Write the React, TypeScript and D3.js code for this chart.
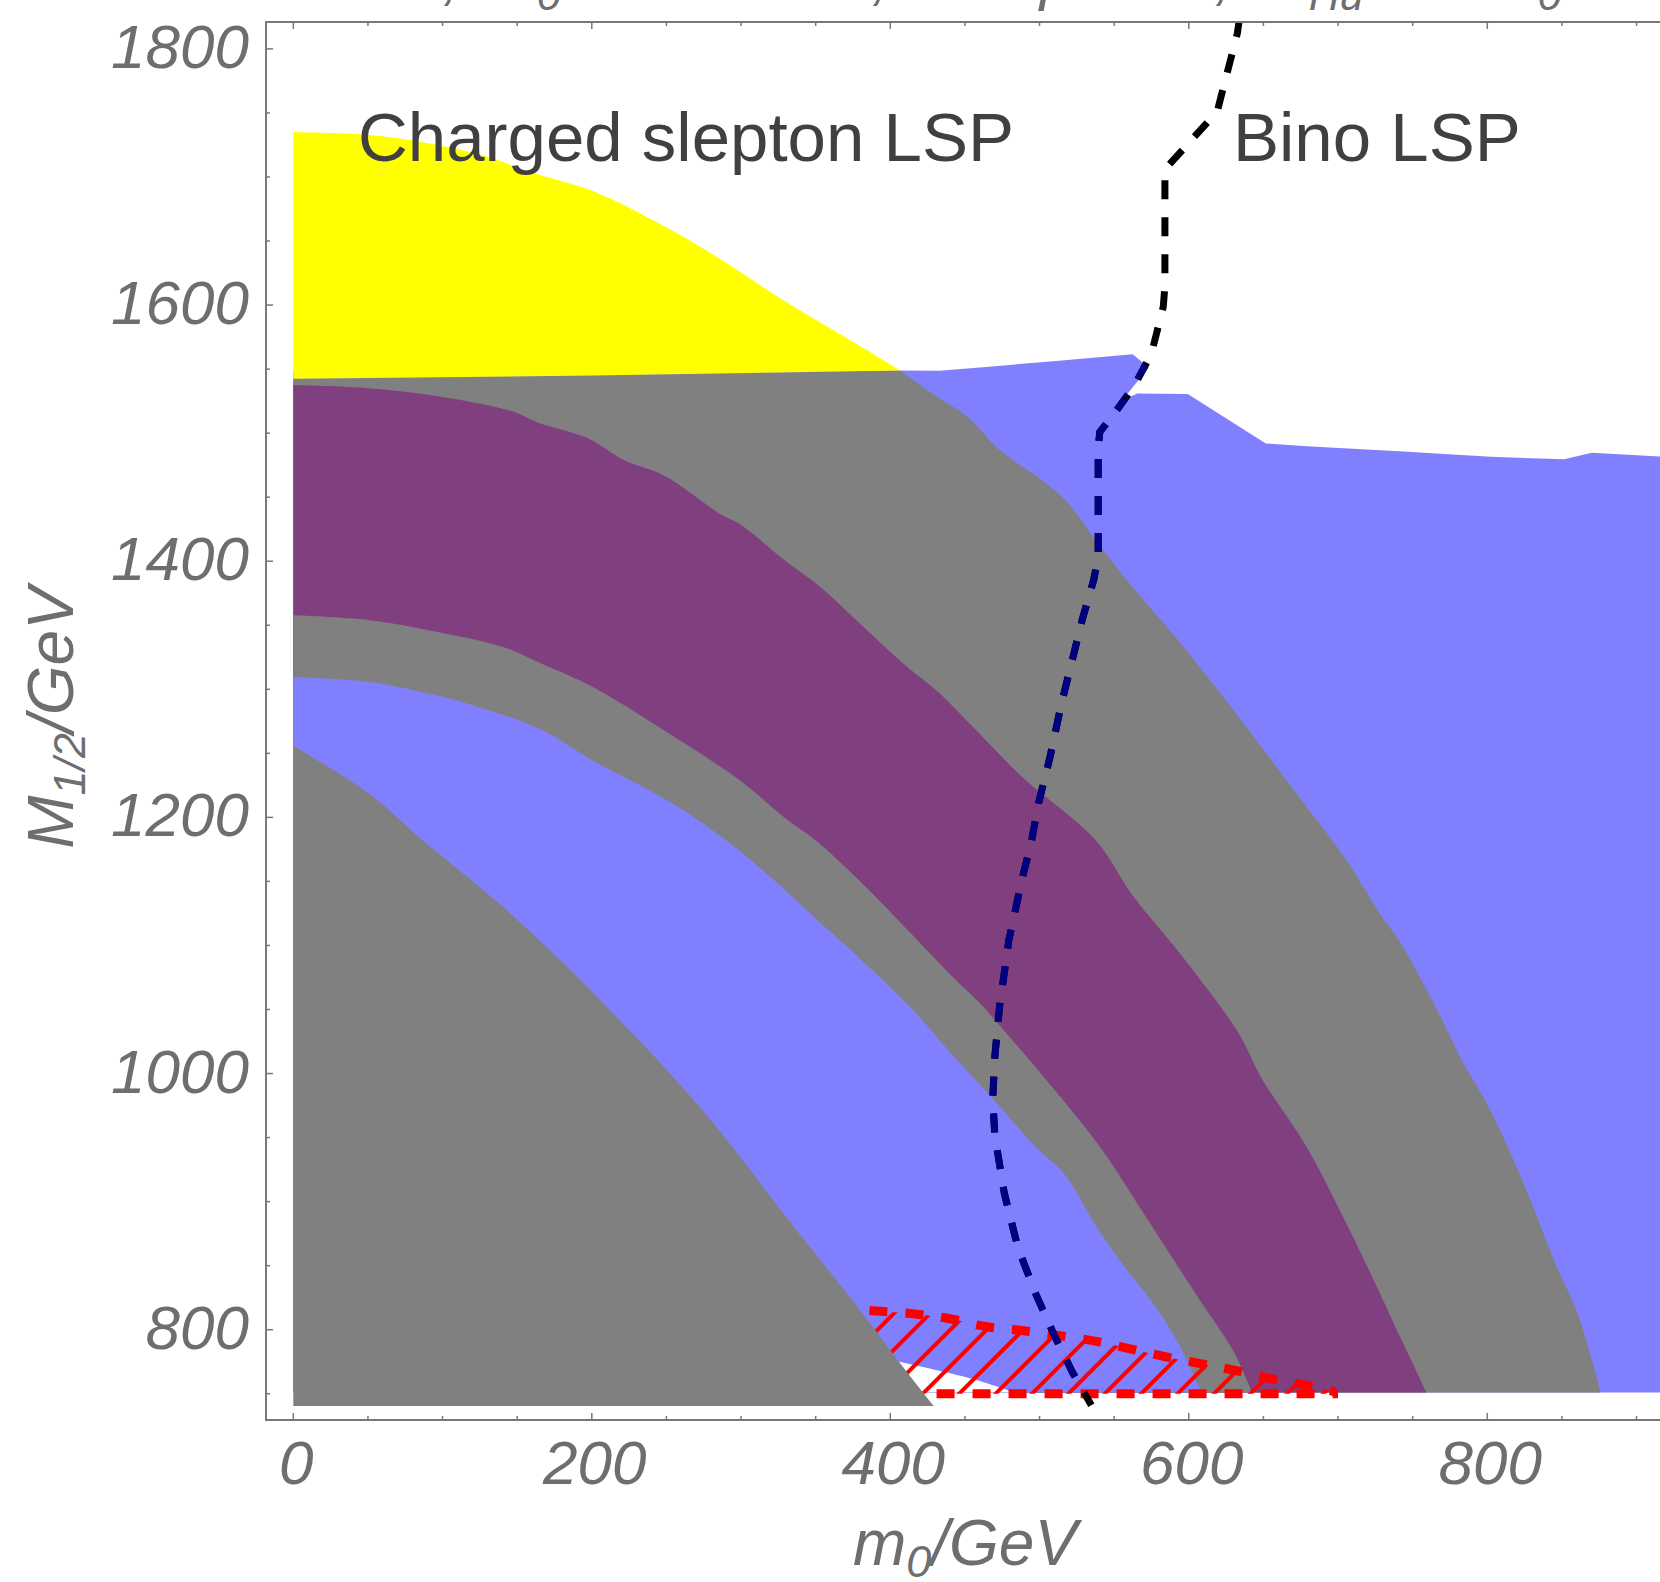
import * as d3 from "d3";

// axes (GeV)
const m0Domain = [-18.3, 918.4];
const m12Domain = [729.5, 1821];
const m0Ticks = [0, 200, 400, 600, 800];
const m12Ticks = [800, 1000, 1200, 1400, 1600, 1800];
const m0Minor = d3.range(0, 901, 50);
const m12Minor = d3.range(750, 1801, 50);

const bandBottom = 751;
const grayBottom = 740.4;

// region boundaries, [m0, M1/2]
const yellowTop = [
  [0, 1735], [50, 1733], [92, 1726], [130, 1716], [158, 1704], [200.6, 1689],
  [243, 1665], [286, 1636], [328, 1604], [371, 1574], [406.5, 1549],
];
const yellowBottom = [[0, 1542.5], [200, 1545], [406.5, 1549]];

const blueTop = [
  [406.5, 1549], [433, 1548.7], [470, 1552.3], [513, 1556.6], [562.4, 1561.5],
  [573.2, 1551.3], [555, 1525], [565.4, 1531], [599.3, 1530.5], [651.6, 1492],
  [679.3, 1489.8], [740.8, 1485.9], [802.3, 1481.5], [851.5, 1479.7],
  [870, 1484.6], [918.4, 1481.5],
];

const outerGrayEdge = [
  [406.5, 1549], [433.2, 1527], [451.6, 1513], [473.2, 1487], [504, 1461],
  [519.4, 1445], [537.8, 1416], [553.2, 1393], [571.6, 1367], [593.2, 1338],
  [617.8, 1302], [642.3, 1265], [663.9, 1231.5], [682.3, 1203], [696.2, 1182],
  [710, 1159], [728.5, 1124], [740.8, 1104], [765.4, 1052], [783.8, 1008.6],
  [802.3, 971], [826.9, 907], [845.3, 852.5], [860.7, 812], [876.1, 751],
];

const purpleOuter = [
  [0, 1537.5], [50.9, 1535], [95.8, 1529], [146.6, 1517], [164.5, 1508],
  [197.4, 1496], [221.4, 1479], [248.3, 1467], [287.2, 1436], [299.1, 1429],
  [329, 1401], [353, 1380], [379.9, 1351], [409.8, 1319], [433, 1297],
  [457.6, 1268], [488, 1232], [537.8, 1182], [562.4, 1139], [593.2, 1095],
  [633.1, 1032], [648.5, 997], [679.3, 942], [703.9, 887], [725.4, 835],
  [743.8, 789], [759.2, 751],
];

const purpleInner = [
  [0, 1357.8], [50.9, 1354], [95.8, 1345], [140.6, 1333], [164.5, 1321],
  [200.4, 1302], [248.3, 1268], [299.1, 1229], [329, 1200], [350, 1182],
  [379.9, 1150], [415.8, 1107], [439.6, 1078], [460, 1055], [473.2, 1037.5],
  [500.9, 1000], [540.9, 942], [568.5, 893], [605.4, 826.6], [630, 783],
  [642.3, 751],
];

const innerGrayEdge = [
  [0, 1309.6], [50.9, 1305.7], [95.8, 1295.3], [116.7, 1288.8], [164.5, 1269.3],
  [200.4, 1244.5], [254.3, 1210.7], [290.1, 1182], [320.1, 1153], [350, 1121],
  [379.9, 1089.5], [415.8, 1049], [439.6, 1017], [467, 982.6], [497.8, 942],
  [516.3, 922], [537.8, 881], [556.3, 850], [577.8, 818], [593.2, 789],
  [608.5, 751],
];

const lowerBlueBottom = [[406, 775], [440, 766], [460, 760], [483, 751]];

const lowerGrayEdge = [
  [0, 1256], [50.9, 1218.5], [86.8, 1182], [140.6, 1130], [200.4, 1063.5],
  [272.2, 974], [335, 881], [379.9, 815], [409.8, 769], [429.2, 740.4],
];

// red hatched strip
const redTop = [
  [386, 815], [416.3, 812.3], [440.7, 808.4], [465, 802.3], [489.4, 799.2],
  [513.7, 795.3], [538.1, 790.9], [561.2, 784.9], [584.3, 778.9], [608.6, 773.3],
  [631.7, 768], [656, 761.5], [680.4, 756.3], [698, 751.5],
];
const redBottom = [[431, 750], [700, 750]];

// LSP boundary (dashed)
const lspLine = [
  [634, 1824], [632.5, 1812], [619, 1751], [584, 1706], [584, 1615],
  [582.9, 1598.7], [575, 1562.3], [563.8, 1537.5], [549.3, 1514], [540.4, 1501],
  [539.3, 1489], [539.3, 1403], [536.2, 1385], [528.5, 1354], [522.4, 1325],
  [514.7, 1289], [507, 1247], [499.3, 1211], [494.7, 1182], [488.5, 1153],
  [479.4, 1104], [473.2, 1052], [470.1, 1014], [468.6, 980], [470.1, 951],
  [476.3, 907], [485.5, 864], [497.8, 827], [510.1, 795], [522.4, 766],
  [534.7, 741],
];

const FONT = "'Liberation Sans', Arial, Helvetica, sans-serif";
const AXIS_GRAY = "#6e6e6e";

export default function App() {
  const W = 1660;
  const H = 1582;
  const x = d3.scaleLinear().domain(m0Domain).range([266, 1664]);
  const y = d3.scaleLinear().domain(m12Domain).range([1420, 22]);
  const line = d3.line<number[]>().x((d) => x(d[0])).y((d) => y(d[1]));
  const smooth = d3
    .line<number[]>()
    .x((d) => x(d[0]))
    .y((d) => y(d[1]))
    .curve(d3.curveCatmullRom.alpha(0.5));

  // path pieces: smooth boundary continued, straight closing
  const cont = (pts: number[][]) => smooth(pts)!.replace(/^M/, "L");
  const straight = (pts: number[][]) =>
    pts.map((p) => `L${x(p[0])},${y(p[1])}`).join("");

  const blueArea =
    line(blueTop) + straight([[m0Domain[1], bandBottom], [0, bandBottom], [0, 1549]]) + "Z";
  const outerGray =
    line(yellowBottom) + cont(outerGrayEdge) + straight([[0, bandBottom]]) + "Z";
  const purpleArea = smooth(purpleOuter) + straight([[0, bandBottom]]) + "Z";
  const innerGray = smooth(purpleInner) + straight([[0, bandBottom]]) + "Z";
  const lowerBlue = smooth(innerGrayEdge) + straight([[0, bandBottom]]) + "Z";
  const whiteWedge =
    smooth(lowerBlueBottom) + straight([[lowerBlueBottom[0][0], bandBottom]]) + "Z";
  const lowerGray = smooth(lowerGrayEdge) + straight([[0, grayBottom]]) + "Z";
  const yellowArea =
    smooth(yellowTop) + straight(yellowBottom.slice().reverse().slice(1)) + "Z";
  const hatchArea =
    smooth(redTop) +
    straight([[redBottom[1][0], redBottom[1][1]], [redTop[0][0], redBottom[0][1]]]) +
    "Z";

  // hatch lines "/" spaced like the original
  const hy0 = y(redTop[0][1]) - 20;
  const hy1 = y(redBottom[0][1]) + 10;
  const hx0 = x(redTop[0][0]) - 20;
  const hx1 = x(redBottom[1][0]) + 20;
  const step = 36.4;
  const cStart = Math.floor((hx0 + hy0) / step) * step + 23.3;
  const hatch = d3.range(cStart, hx1 + hy1 + step, step);

  const [px0, px1] = x.range();
  const [py0, py1] = [y.range()[1], y.range()[0]];

  const tickLabel = {
    fontFamily: FONT,
    fontStyle: "italic",
    fontSize: 62,
    fill: AXIS_GRAY,
  } as const;

  return (
    <svg
      width={W}
      height={H}
      style={{ position: "absolute", left: 0, top: 0, background: "#fff" }}
    >
      <defs>
        <clipPath id="plot">
          <rect x={px0} y={py0} width={px1 - px0} height={py1 - py0} />
        </clipPath>
        <clipPath id="colored">
          <path d={blueArea} />
        </clipPath>
        <clipPath id="hatchClip">
          <path d={hatchArea} />
        </clipPath>
      </defs>

      {/* title line, sits above the top edge of the page */}
      <g fill={AXIS_GRAY} fontFamily={FONT} fontStyle="italic" fontSize={62}>
        <text x={460} y={-2} textAnchor="end">Λ = 10 TeV,</text>
        <text x={889} y={-2} textAnchor="end">
          A<tspan fontSize={43} dy={12}>0</tspan>
          <tspan dy={-12}> = 500 GeV,</tspan>
        </text>
        <text x={1232} y={-2} textAnchor="end">tan β = 10,</text>
        <text x={1257} y={-2}>
          m<tspan fontSize={43} dy={12}>Hu</tspan>
          <tspan dy={-12}> = 2 m</tspan>
          <tspan fontSize={43} dy={12}>0</tspan>
        </text>
      </g>

      <g clipPath="url(#plot)">
        <path d={blueArea} fill="#8080ff" />
        <path d={outerGray} fill="#808080" />
        <path d={purpleArea} fill="#804080" />
        <path d={innerGray} fill="#808080" />
        <path d={lowerBlue} fill="#8080ff" />
        <path d={whiteWedge} fill="#ffffff" />
        <g clipPath="url(#hatchClip)">
          {hatch.map((c, i) => (
            <line
              key={i}
              x1={c - hy0}
              y1={hy0}
              x2={c - hy1}
              y2={hy1}
              stroke="#ff0000"
              strokeWidth={4}
            />
          ))}
        </g>
        <path d={lowerGray} fill="#808080" />
        <path d={yellowArea} fill="#ffff00" />

        <path d={smooth(redTop)!} fill="none" stroke="#ff0000" strokeWidth={9} strokeDasharray="18 18" />
        <path d={line(redBottom)!} fill="none" stroke="#ff0000" strokeWidth={9} strokeDasharray="18 18" />

        <path d={line(lspLine)!} fill="none" stroke="#000000" strokeWidth={7} strokeDasharray="19 18" />
        <path
          d={line(lspLine)!}
          fill="none"
          stroke="#000080"
          strokeWidth={7}
          strokeDasharray="19 18"
          clipPath="url(#colored)"
        />
      </g>

      {/* frame */}
      <rect
        x={px0}
        y={py0}
        width={px1 - px0}
        height={py1 - py0}
        fill="none"
        stroke="#777"
        strokeWidth={2}
      />
      {m0Minor.map((v) => {
        const major = v % 200 === 0;
        const len = major ? 7 : 4;
        return (
          <g key={"xt" + v} stroke="#777" strokeWidth={1.5}>
            <line x1={x(v)} x2={x(v)} y1={py1} y2={py1 - len} />
            <line x1={x(v)} x2={x(v)} y1={py0} y2={py0 + len} />
          </g>
        );
      })}
      {m12Minor.map((v) => {
        const major = v % 200 === 0;
        const len = major ? 7 : 4;
        return (
          <line
            key={"yt" + v}
            x1={px0}
            x2={px0 + len}
            y1={y(v)}
            y2={y(v)}
            stroke="#777"
            strokeWidth={1.5}
          />
        );
      })}

      {m0Ticks.map((v) => (
        <text key={"xl" + v} x={x(v) + 3} y={1484} textAnchor="middle" {...tickLabel}>
          {v}
        </text>
      ))}
      {m12Ticks.map((v) => (
        <text key={"yl" + v} x={249} y={y(v) + 19} textAnchor="end" {...tickLabel}>
          {v}
        </text>
      ))}

      {/* axis titles */}
      <text
        x={965}
        y={1565}
        textAnchor="middle"
        fontFamily={FONT}
        fontStyle="italic"
        fontSize={64}
        fill={AXIS_GRAY}
      >
        m<tspan fontSize={45} dy={12}>0</tspan>
        <tspan dy={-12}>/GeV</tspan>
      </text>
      <text
        transform="translate(73,718) rotate(-90)"
        textAnchor="middle"
        fontFamily={FONT}
        fontStyle="italic"
        fontSize={64}
        fill={AXIS_GRAY}
      >
        M<tspan fontSize={45} dy={12}>1/2</tspan>
        <tspan dy={-12}>/GeV</tspan>
      </text>

      {/* region labels */}
      <text x={358} y={161} fontFamily={FONT} fontSize={69} fill="#404040">
        Charged slepton LSP
      </text>
      <text x={1233} y={161} fontFamily={FONT} fontSize={69} fill="#404040">
        Bino LSP
      </text>
    </svg>
  );
}
